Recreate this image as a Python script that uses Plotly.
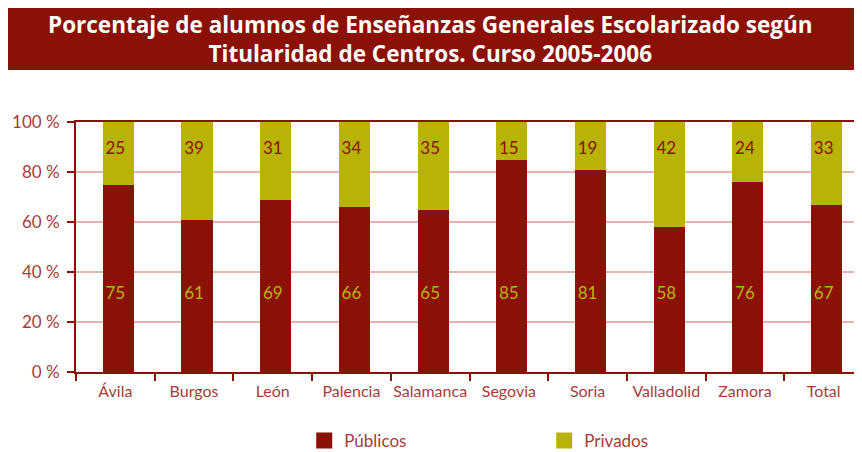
import plotly.graph_objects as go

categories = ["Ávila", "Burgos", "León", "Palencia", "Salamanca", "Segovia", "Soria", "Valladolid", "Zamora", "Total"]
publicos = [75, 61, 69, 66, 65, 85, 81, 58, 76, 67]
privados = [25, 39, 31, 34, 35, 15, 19, 42, 24, 33]
y_ticks = [0, 20, 40, 60, 80, 100]

RED = "#8b1005"
OLIVE = "#b8b405"
TXT = "#a83c3a"
FONT = "Lato"

fig = go.Figure()
fig.add_trace(go.Bar(x=categories, y=publicos, name="Públicos", showlegend=False,
                     width=0.395, offset=-0.16,
                     marker=dict(color=RED, line=dict(width=0))))
fig.add_trace(go.Bar(x=categories, y=privados, name="Privados", showlegend=False,
                     width=0.395, offset=-0.16,
                     marker=dict(color=OLIVE, line=dict(width=0))))

# value labels at fixed heights within the bars
fig.add_trace(go.Scatter(x=categories, y=[30.8] * len(categories), mode="text",
                         text=[str(v) for v in publicos], showlegend=False, hoverinfo="skip",
                         textfont=dict(family=FONT, size=17, color=OLIVE)))
fig.add_trace(go.Scatter(x=categories, y=[88.8] * len(categories), mode="text",
                         text=[str(v) for v in privados], showlegend=False, hoverinfo="skip",
                         textfont=dict(family=FONT, size=17, color=RED)))

# legend entries (larger square symbols)
for nm, col in [("Públicos", RED), ("Privados", OLIVE)]:
    fig.add_trace(go.Scatter(x=[None], y=[None], mode="markers", name=nm,
                             marker=dict(symbol="square", size=16, color=col)))

fig.update_layout(
    width=862, height=452,
    barmode="stack",
    plot_bgcolor="white", paper_bgcolor="white",
    margin=dict(l=68, r=7, t=114, b=88, autoexpand=False),
    font=dict(family=FONT, color=TXT),
    showlegend=True,
    legend=dict(orientation="h", x=0.29, xanchor="left", y=-0.276, yanchor="middle",
                itemsizing="trace",
                font=dict(family=FONT, size=17, color=TXT), entrywidth=195, traceorder="normal"),
    xaxis=dict(showline=True, linecolor=RED, linewidth=2, mirror=True, automargin=False,
               ticks="outside", tickson="boundaries", ticklen=7, tickcolor=RED, tickwidth=1.5,
               ticklabelstandoff=4,
               tickangle=0, tickfont=dict(family=FONT, size=16, color=TXT), showgrid=False),
    yaxis=dict(range=[0, 100], tickvals=y_ticks, ticktext=[f"{v} %" for v in y_ticks], automargin=False,
               showline=True, linecolor=RED, linewidth=2, ticks="outside", ticklen=7,
               ticklabelstandoff=4,
               tickcolor=RED, tickwidth=1.5, tickfont=dict(family=FONT, size=17, color=TXT),
               showgrid=True, gridcolor="#e3b5ac", gridwidth=1.5, zeroline=False),
)

# title banner
fig.add_shape(type="rect", xref="paper", yref="paper", x0=-0.0864, x1=0.9924, y0=1.208, y1=1.456,
              fillcolor=RED, line=dict(width=0), layer="above")
fig.add_annotation(xref="paper", yref="paper", x=0.451, y=1.332, xanchor="center", yanchor="middle",
                   showarrow=False, align="center",
                   text="<b>Porcentaje de alumnos de Enseñanzas Generales Escolarizado según<br>Titularidad de Centros. Curso 2005-2006</b>",
                   font=dict(family="Open Sans", size=22.5, color="white"))

fig.write_html("out.html")
